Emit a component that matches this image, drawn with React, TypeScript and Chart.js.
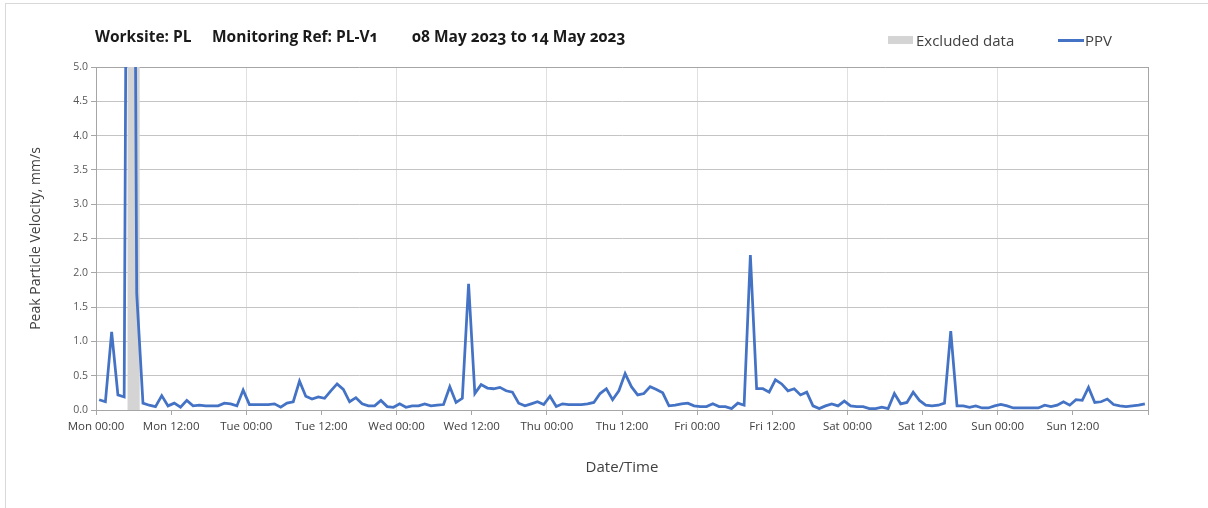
import React, { useEffect, useRef } from "react";
import { Chart, registerables } from "chart.js";

Chart.register(...registerables);

// Hour offsets (from Mon 00:00) of each hourly sample, taken at the half hour
const sampleHours: number[] = Array.from({ length: 168 }, (_, i) => i + 0.5);

// PPV readings, mm/s (one per hour)
const ppv: number[] = [
  0.15, 0.12, 1.14, 0.22, 0.19, 20.0, 1.7, 0.1, 0.07, 0.05,
  0.21, 0.06, 0.1, 0.04, 0.14, 0.06, 0.07, 0.06, 0.06, 0.06,
  0.1, 0.09, 0.06, 0.29, 0.08, 0.08, 0.08, 0.08, 0.09, 0.04,
  0.1, 0.12, 0.42, 0.2, 0.16, 0.19, 0.17, 0.28, 0.38, 0.3,
  0.12, 0.18, 0.09, 0.06, 0.06, 0.14, 0.05, 0.04, 0.09, 0.04,
  0.06, 0.06, 0.09, 0.06, 0.07, 0.08, 0.34, 0.11, 0.17, 1.84,
  0.24, 0.37, 0.32, 0.31, 0.33, 0.28, 0.26, 0.1, 0.06, 0.09,
  0.12, 0.08, 0.2, 0.05, 0.09, 0.08, 0.08, 0.08, 0.09, 0.11,
  0.24, 0.31, 0.15, 0.28, 0.53, 0.34, 0.22, 0.24, 0.34, 0.3,
  0.25, 0.06, 0.07, 0.09, 0.1, 0.06, 0.05, 0.05, 0.09, 0.05,
  0.05, 0.02, 0.1, 0.07, 2.26, 0.31, 0.31, 0.26, 0.44, 0.38,
  0.28, 0.31, 0.22, 0.26, 0.06, 0.02, 0.06, 0.09, 0.06, 0.13,
  0.06, 0.05, 0.05, 0.02, 0.02, 0.04, 0.02, 0.24, 0.09, 0.11,
  0.26, 0.14, 0.07, 0.06, 0.07, 0.1, 1.15, 0.06, 0.06, 0.04,
  0.06, 0.03, 0.03, 0.06, 0.08, 0.06, 0.03, 0.03, 0.03, 0.03,
  0.03, 0.07, 0.05, 0.07, 0.12, 0.07, 0.15, 0.14, 0.33, 0.11,
  0.12, 0.16, 0.08, 0.06, 0.05, 0.06, 0.07, 0.09,
];

// Excluded data window (hours from Mon 00:00)
const excludedHours: number[] = [5, 7];
const excludedTop: number[] = [5, 5];

// X tick labels every 12 hours
const xTickLabels: string[] = [
  "Mon 00:00", "Mon 12:00", "Tue 00:00", "Tue 12:00", "Wed 00:00", "Wed 12:00",
  "Thu 00:00", "Thu 12:00", "Fri 00:00", "Fri 12:00", "Sat 00:00", "Sat 12:00",
  "Sun 00:00", "Sun 12:00", "",
];

const titleParts: string[] = ["Worksite: PL", "Monitoring Ref: PL-V1", "08 May 2023 to 14 May 2023"];
const legendLabels: string[] = ["Excluded data", "PPV"];

const FONT = '"Open Sans", "Noto Sans", sans-serif';
const BLUE = "#4472C4";
const GREY_BAND = "#d4d4d4";

export default function App() {
  const ref = useRef<HTMLCanvasElement | null>(null);

  useEffect(() => {
    if (!ref.current) return;
    const chart = new Chart(ref.current, {
      type: "line",
      data: {
        datasets: [
          {
            label: legendLabels[1],
            data: sampleHours.map((h, i) => ({ x: h, y: ppv[i] })),
            borderColor: BLUE,
            backgroundColor: BLUE,
            borderWidth: 2.75,
            pointRadius: 0,
            tension: 0,
            fill: false,
            order: 1,
          },
          {
            label: legendLabels[0],
            data: excludedHours.map((h, i) => ({ x: h, y: excludedTop[i] })),
            borderWidth: 0,
            borderColor: "rgba(0,0,0,0)",
            backgroundColor: GREY_BAND,
            pointRadius: 0,
            fill: "origin",
            order: 2,
          },
        ],
      },
      options: {
        responsive: false,
        maintainAspectRatio: false,
        animation: false,
        devicePixelRatio: 1,
        layout: { padding: { left: 0, right: 60, top: 67, bottom: 0 } },
        plugins: {
          legend: { display: false },
          tooltip: { enabled: false },
          title: { display: false },
        },
        scales: {
          x: {
            type: "linear",
            min: 0,
            max: 168,
            afterFit: (s: any) => {
              s.height = 98;
            },
            ticks: {
              stepSize: 12,
              autoSkip: false,
              maxRotation: 0,
              minRotation: 0,
              padding: 5,
              color: "#404040",
              font: { family: FONT, size: 11.5 },
              callback: (v: any) => xTickLabels[Math.round(Number(v) / 12)] ?? "",
            },
            grid: {
              color: (ctx: any) => {
                const v = ctx.tick ? ctx.tick.value : 0;
                if (v === 168) return "#a6a6a6";
                return v % 24 === 0 ? "#e0e0e0" : "rgba(0,0,0,0)";
              },
              tickColor: "#a6a6a6",
              tickLength: 5,
              lineWidth: 1,
            },
            border: { display: true, color: "#a6a6a6", width: 1 },
            title: {
              display: true,
              text: "Date/Time",
              color: "#404040",
              font: { family: FONT, size: 15 },
              padding: { top: 0, bottom: 31 },
            },
          },
          y: {
            min: 0,
            max: 5,
            afterFit: (s: any) => {
              s.width = 96;
            },
            ticks: {
              stepSize: 0.5,
              padding: 3,
              color: "#595959",
              font: { family: FONT, size: 10.5 },
              callback: (v: any) => Number(v).toFixed(1),
            },
            grid: {
              color: (ctx: any) => {
                const v = ctx.tick ? ctx.tick.value : 0;
                return v === 5 ? "#a6a6a6" : "#c4c4c4";
              },
              tickColor: "#a6a6a6",
              tickLength: 5,
              lineWidth: 1,
            },
            border: { display: true, color: "#a6a6a6", width: 1 },
            title: {
              display: true,
              text: "Peak Particle Velocity, mm/s",
              color: "#404040",
              font: { family: FONT, size: 14 },
              padding: { top: 28, bottom: 0 },
            },
          },
        },
      },
    } as any);
    return () => chart.destroy();
  }, []);

  const titleLefts = [95, 212, 412];

  return (
    <div
      style={{
        position: "fixed",
        left: 0,
        top: 0,
        width: 1208,
        height: 508,
        background: "#ffffff",
        overflow: "hidden",
        fontFamily: FONT,
      }}
    >
      <div
        style={{
          position: "absolute",
          left: 5,
          top: 3,
          width: 1210,
          height: 510,
          border: "1px solid #d9d9d9",
          boxSizing: "border-box",
        }}
      />
      <canvas
        ref={ref}
        width={1208}
        height={508}
        style={{ position: "absolute", left: 0, top: 0, width: 1208, height: 508 }}
      />
      {titleParts.map((t, i) => (
        <div
          key={i}
          style={{
            position: "absolute",
            left: titleLefts[i],
            top: 26,
            lineHeight: "20px",
            fontSize: 15.5,
            fontWeight: 700,
            color: "#1a1a1a",
            whiteSpace: "pre",
            fontVariantNumeric: "oldstyle-nums",
          }}
        >
          {t}
        </div>
      ))}
      <div style={{ position: "absolute", left: 888, top: 36, width: 25, height: 8, background: GREY_BAND }} />
      <div
        style={{
          position: "absolute",
          left: 916,
          top: 30,
          lineHeight: "20px",
          fontSize: 15,
          color: "#404040",
          whiteSpace: "pre",
        }}
      >
        {legendLabels[0]}
      </div>
      <div style={{ position: "absolute", left: 1058, top: 39, width: 26, height: 2.5, background: BLUE }} />
      <div
        style={{
          position: "absolute",
          left: 1085,
          top: 30,
          lineHeight: "20px",
          fontSize: 15,
          color: "#404040",
          whiteSpace: "pre",
        }}
      >
        {legendLabels[1]}
      </div>
    </div>
  );
}
